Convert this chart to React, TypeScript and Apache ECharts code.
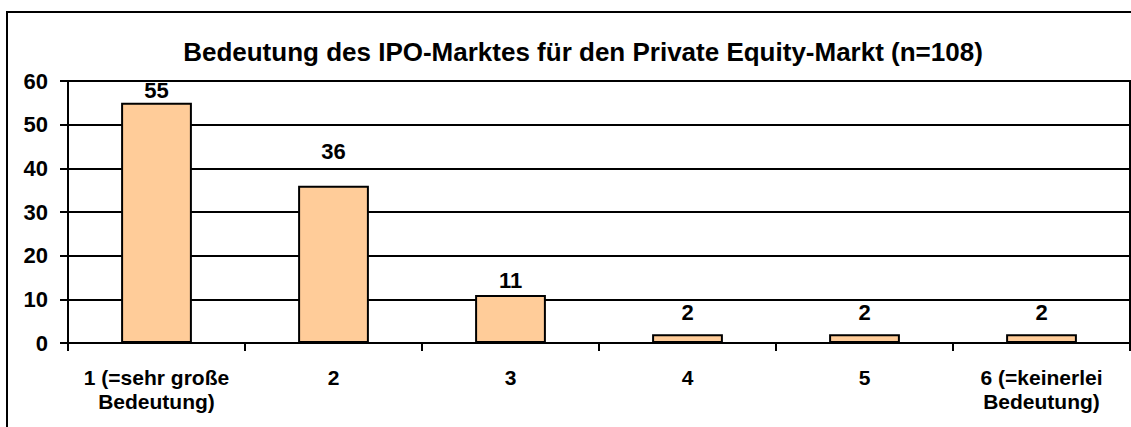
import React, { useEffect, useRef } from "react";
import * as echarts from "echarts";

const categories = [
  "1 (=sehr große\nBedeutung)",
  "2",
  "3",
  "4",
  "5",
  "6 (=keinerlei\nBedeutung)",
];
const values = [55, 36, 11, 2, 2, 2];
const titleText = "Bedeutung des IPO-Marktes für den Private Equity-Markt (n=108)";

// label spacing above each bar (style only)
const labelGaps = [1, 23, 3, 11, 11, 11];

export default function App() {
  const ref = useRef<HTMLDivElement>(null);
  useEffect(() => {
    document.body.style.margin = "0";
    const chart = echarts.init(ref.current!, null, { renderer: "svg" });
    const font = "Arial, 'Liberation Sans', sans-serif";
    chart.setOption({
      animation: false,
      backgroundColor: "#ffffff",
      title: {
        text: titleText,
        left: 578,
        textAlign: "center",
        top: 34,
        textStyle: { fontFamily: font, fontWeight: "bold", fontSize: 26, color: "#000" },
      },
      graphic: [
        {
          type: "rect",
          shape: { x: 7, y: 12, width: 1140, height: 430 },
          style: { fill: "none", stroke: "#000", lineWidth: 2 },
          silent: true,
        },
      ],
      grid: {
        left: 68,
        right: 1,
        top: 81,
        bottom: 84,
        show: true,
        borderColor: "#000",
        borderWidth: 2,
        backgroundColor: "transparent",
      },
      xAxis: {
        type: "category",
        data: categories,
        boundaryGap: true,
        axisLine: { show: true, lineStyle: { color: "#000", width: 2 } },
        axisTick: { show: true, alignWithLabel: false, length: 8, lineStyle: { color: "#000", width: 2 } },
        axisLabel: {
          color: "#000",
          fontFamily: font,
          fontWeight: "bold",
          fontSize: 21,
          lineHeight: 24,
          margin: 22,
          interval: 0,
        },
      },
      yAxis: {
        type: "value",
        min: 0,
        max: 60,
        interval: 10,
        axisLine: { show: true, lineStyle: { color: "#000", width: 2 } },
        axisTick: { show: true, length: 8, lineStyle: { color: "#000", width: 2 } },
        axisLabel: {
          color: "#000",
          fontFamily: font,
          fontWeight: "bold",
          fontSize: 22,
          margin: 20,
        },
        splitLine: { show: true, lineStyle: { color: "#000", width: 2 } },
      },
      series: [
        {
          type: "bar",
          data: values.map((v, i) => ({ value: v, label: { distance: labelGaps[i] } })),
          barWidth: "40%",
          itemStyle: { color: "#FFCC99", borderColor: "#000", borderWidth: 2 },
          label: {
            show: true,
            position: "top",
            distance: 2,
            color: "#000",
            fontFamily: font,
            fontWeight: "bold",
            fontSize: 22,
          },
        },
      ],
    });
    return () => chart.dispose();
  }, []);
  return <div ref={ref} style={{ width: 1131, height: 427 }} />;
}
